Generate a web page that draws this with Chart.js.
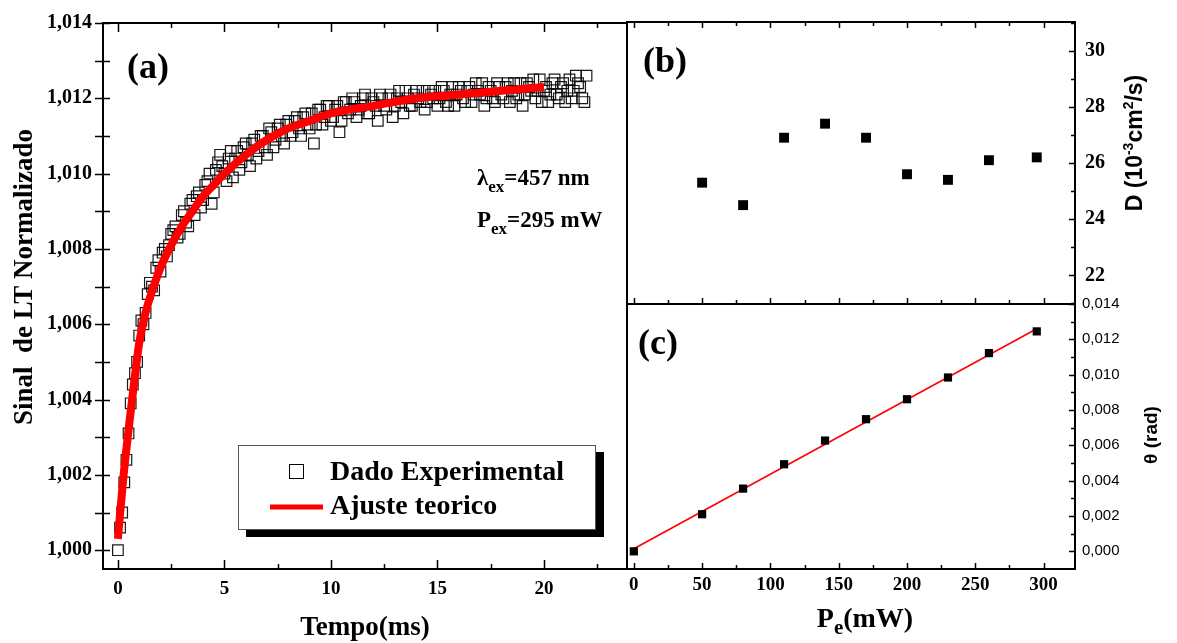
<!DOCTYPE html>
<html>
<head>
<meta charset="utf-8">
<script src="https://cdn.jsdelivr.net/npm/chart.js@4.4.1/dist/chart.umd.min.js"></script>
<style>
  body { margin: 0; background: #fff; }
  #painel { position: relative; width: 1177px; height: 643px; }
  #painel canvas { position: absolute; left: 0; top: 0; }
</style>
</head>
<body>
<div id="painel">
  <canvas id="grafico-a" width="1177" height="643"></canvas>
  <canvas id="grafico-b" width="1177" height="643"></canvas>
  <canvas id="grafico-c" width="1177" height="643"></canvas>
</div>
<script>
const SERIF = '"Liberation Serif", "Times New Roman", serif';
const SANS = '"Liberation Sans", Arial, sans-serif';

// (a) sinal de LT normalizado x tempo (pontos pares e intermediarios)
const tempoMs = [
  0, 0.2, 0.4, 0.6, 0.8, 1,
  1.2, 1.4, 1.6, 1.8, 2,
  2.2, 2.4, 2.6, 2.8, 3,
  3.2, 3.4, 3.6, 3.8, 4,
  4.2, 4.4, 4.6, 4.8, 5,
  5.2, 5.4, 5.6, 5.8, 6,
  6.2, 6.4, 6.6, 6.8, 7,
  7.2, 7.4, 7.6, 7.8, 8,
  8.2, 8.4, 8.6, 8.8, 9,
  9.2, 9.4, 9.6, 9.8, 10,
  10.2, 10.4, 10.6, 10.8, 11,
  11.2, 11.4, 11.6, 11.8, 12,
  12.2, 12.4, 12.6, 12.8, 13,
  13.2, 13.4, 13.6, 13.8, 14,
  14.2, 14.4, 14.6, 14.8, 15,
  15.2, 15.4, 15.6, 15.8, 16,
  16.2, 16.4, 16.6, 16.8, 17,
  17.2, 17.4, 17.6, 17.8, 18,
  18.2, 18.4, 18.6, 18.8, 19,
  19.2, 19.4, 19.6, 19.8, 20,
  20.2, 20.4, 20.6, 20.8, 21,
  21.2, 21.4, 21.6, 21.8, 22,
];
const sinalLT = [
  1.0000, 1.0010, 1.0024, 1.0039, 1.0047, 1.0057,
  1.0060, 1.0068, 1.0070, 1.0075, 1.0074,
  1.0080, 1.0081, 1.0085, 1.0083, 1.0089,
  1.0087, 1.0092, 1.0089, 1.0095, 1.0093,
  1.0098, 1.0092, 1.0101, 1.0105, 1.0100,
  1.0104, 1.0099, 1.0106, 1.0103, 1.0108,
  1.0102, 1.0109, 1.0106, 1.0110, 1.0105,
  1.0111, 1.0109, 1.0113, 1.0108, 1.0114,
  1.0111, 1.0115, 1.0110, 1.0116, 1.0112,
  1.0108, 1.0117, 1.0113, 1.0118, 1.0114,
  1.0117, 1.0111, 1.0119, 1.0116, 1.0120,
  1.0115, 1.0118, 1.0121, 1.0116, 1.0119,
  1.0114, 1.0120, 1.0117, 1.0121, 1.0118,
  1.0122, 1.0116, 1.0120, 1.0118, 1.0122,
  1.0119, 1.0117, 1.0122, 1.0120, 1.0118,
  1.0123, 1.0119, 1.0121, 1.0118, 1.0123,
  1.0120, 1.0122, 1.0119, 1.0124, 1.0121,
  1.0118, 1.0123, 1.0120, 1.0124, 1.0121,
  1.0123, 1.0119, 1.0124, 1.0121, 1.0118,
  1.0124, 1.0122, 1.0120, 1.0125, 1.0122,
  1.0119, 1.0124, 1.0121, 1.0123, 1.0119,
  1.0125, 1.0122, 1.0124, 1.0120, 1.0126,
];
const tempoMsMeio = [
  0.1, 0.3, 0.5, 0.7, 0.9,
  1.1, 1.3, 1.5, 1.7, 1.9,
  2.1, 2.3, 2.5, 2.7, 2.9,
  3.1, 3.3, 3.5, 3.7, 3.9,
  4.1, 4.3, 4.5, 4.7, 4.9,
  5.1, 5.3, 5.5, 5.7, 5.9,
  6.1, 6.3, 6.5, 6.7, 6.9,
  7.1, 7.3, 7.5, 7.7, 7.9,
  8.1, 8.3, 8.5, 8.7, 8.9,
  9.1, 9.3, 9.5, 9.7, 9.9,
  10.1, 10.3, 10.5, 10.7, 10.9,
  11.1, 11.3, 11.5, 11.7, 11.9,
  12.1, 12.3, 12.5, 12.7, 12.9,
  13.1, 13.3, 13.5, 13.7, 13.9,
  14.1, 14.3, 14.5, 14.7, 14.9,
  15.1, 15.3, 15.5, 15.7, 15.9,
  16.1, 16.3, 16.5, 16.7, 16.9,
  17.1, 17.3, 17.5, 17.7, 17.9,
  18.1, 18.3, 18.5, 18.7, 18.9,
  19.1, 19.3, 19.5, 19.7, 19.9,
  20.1, 20.3, 20.5, 20.7, 20.9,
  21.1, 21.3, 21.5, 21.7, 21.9,
];
const sinalLTMeio = [
  1.0006, 1.0018, 1.0031, 1.0044, 1.0050,
  1.0061, 1.0063, 1.0071, 1.0069, 1.0077,
  1.0079, 1.0078, 1.0084, 1.0086, 1.0084,
  1.0090, 1.0086, 1.0093, 1.0094, 1.0091,
  1.0097, 1.0100, 1.0095, 1.0103, 1.0102,
  1.0098, 1.0106, 1.0104, 1.0101, 1.0107,
  1.0105, 1.0108, 1.0104, 1.0110, 1.0107,
  1.0112, 1.0107, 1.0112, 1.0110, 1.0113,
  1.0110, 1.0114, 1.0112, 1.0115, 1.0113,
  1.0116, 1.0113, 1.0117, 1.0115, 1.0118,
  1.0115, 1.0118, 1.0114, 1.0119, 1.0117,
  1.0119, 1.0117, 1.0120, 1.0116, 1.0120,
  1.0118, 1.0121, 1.0118, 1.0120, 1.0115,
  1.0120, 1.0119, 1.0122, 1.0118, 1.0121,
  1.0120, 1.0122, 1.0119, 1.0121, 1.0122,
  1.0120, 1.0122, 1.0118, 1.0123, 1.0121,
  1.0122, 1.0119, 1.0123, 1.0121, 1.0122,
  1.0124, 1.0120, 1.0122, 1.0119, 1.0123,
  1.0120, 1.0124, 1.0122, 1.0120, 1.0124,
  1.0121, 1.0123, 1.0125, 1.0122, 1.0119,
  1.0123, 1.0121, 1.0125, 1.0120, 1.0124,
  1.0122, 1.0120, 1.0126, 1.0123, 1.0119,
];
const tempoAjuste = [0, 0.25, 0.5, 0.75, 1, 1.25, 1.5, 2, 2.5, 3, 3.5, 4, 4.5, 5, 6, 7, 8, 9, 10, 12, 14, 16, 18, 20];
const sinalAjuste = [
  1.0003, 1.0019, 1.0032, 1.0044, 1.0055, 1.0062, 1.0067, 1.0075, 1.0081, 1.0086, 1.0090, 1.0094,
  1.0097, 1.0100, 1.0105, 1.0109, 1.0112, 1.0114, 1.0116, 1.0118, 1.0120, 1.0121, 1.0122, 1.0123,
];
const ticksTempo = [0, 5, 10, 15, 20];
const ticksSinal = [1.000, 1.002, 1.004, 1.006, 1.008, 1.010, 1.012, 1.014];

// (b) difusividade e (c) theta x potencia
const potenciaD = [50, 80, 110, 140, 170, 200, 230, 260, 295];
const difusividade = [25.3, 24.5, 26.9, 27.4, 26.9, 25.6, 25.4, 26.1, 26.2];
const potenciaTheta = [0, 50, 80, 110, 140, 170, 200, 230, 260, 295];
const theta = [0.0000, 0.0021, 0.00355, 0.00493, 0.00627, 0.00748, 0.00861, 0.00984, 0.01122, 0.01245];
const potenciaReta = [0, 295];
const thetaReta = [0.00015, 0.0126];
const ticksPotencia = [0, 50, 100, 150, 200, 250, 300];
const ticksD = [22, 24, 26, 28, 30];
const ticksTheta = [0, 0.002, 0.004, 0.006, 0.008, 0.010, 0.012, 0.014];

const pontos = (xs, ys) => xs.map((x, i) => ({ x, y: ys[i] }));
const virgula = (casas) => (v) => v.toFixed(casas).replace(".", ",");

// texto com partes (subscrito / sobrescrito)
function textoRico(ctx, partes, x, y, align, rot) {
  ctx.save();
  ctx.translate(x, y);
  if (rot) ctx.rotate(rot);
  ctx.textAlign = "left";
  ctx.textBaseline = "alphabetic";
  ctx.fillStyle = "#000";
  let w = 0;
  partes.forEach((p) => {
    ctx.font = p.f;
    w += ctx.measureText(p.t).width;
  });
  let cx = align === "center" ? -w / 2 : 0;
  partes.forEach((p) => {
    ctx.font = p.f;
    ctx.fillText(p.t, cx, p.dy || 0);
    cx += ctx.measureText(p.t).width;
  });
  ctx.restore();
}

const textos = {
  id: "textos",
  afterDraw(chart, args, opts) {
    (opts.itens || []).forEach((it) =>
      textoRico(chart.ctx, it.partes, it.x, it.y, it.align, it.rot)
    );
  },
};

// moldura e marcas para dentro
const moldura = {
  id: "moldura",
  afterDraw(chart, args, opts) {
    const { ctx, chartArea: a, scales } = chart;
    ctx.save();
    ctx.strokeStyle = "#000";
    ctx.lineWidth = 1.5;
    ctx.beginPath();
    (opts.marcas || []).forEach((m) => {
      const s = scales[m.eixo];
      const n = Math.round((m.ate - m.de) / m.passo);
      for (let i = 0; i <= n; i++) {
        const v = m.de + i * m.passo;
        const r = v / m.cada;
        const maior = Math.abs(r - Math.round(r)) < 1e-6;
        const len = maior ? m.tam[0] : m.tam[1];
        const fora = m.fora || 0;
        const p = Math.round(s.getPixelForValue(v)) + 0.5;
        m.lados.forEach((lado) => {
          if (lado === "bottom") { ctx.moveTo(p, a.bottom + fora); ctx.lineTo(p, a.bottom - len); }
          if (lado === "top") { ctx.moveTo(p, a.top - fora); ctx.lineTo(p, a.top + len); }
          if (lado === "left") { ctx.moveTo(a.left - fora, p); ctx.lineTo(a.left + len, p); }
          if (lado === "right") { ctx.moveTo(a.right + fora, p); ctx.lineTo(a.right - len, p); }
        });
      }
    });
    ctx.stroke();
    ctx.lineWidth = 2;
    ctx.strokeRect(a.left, a.top, a.right - a.left, a.bottom - a.top);
    ctx.restore();
  },
};

// legenda do painel (a), com sombra
const legendaA = {
  id: "legendaA",
  afterDraw(chart) {
    const ctx = chart.ctx;
    const ajuste = chart.data.datasets[0];
    const dados = chart.data.datasets[1];
    ctx.save();
    ctx.fillStyle = "#000";
    ctx.fillRect(246, 452, 358, 85);
    ctx.fillStyle = "#fff";
    ctx.fillRect(238, 445, 358, 85);
    ctx.strokeStyle = "#555";
    ctx.lineWidth = 1;
    ctx.strokeRect(238.5, 445.5, 357, 84);
    ctx.strokeStyle = "#000";
    ctx.strokeRect(289.5, 464.5, 14, 14);
    ctx.strokeStyle = ajuste.borderColor;
    ctx.lineWidth = 5;
    ctx.beginPath();
    ctx.moveTo(270, 507);
    ctx.lineTo(323, 507);
    ctx.stroke();
    ctx.restore();
    const f = `bold 28px ${SERIF}`;
    textoRico(ctx, [{ t: dados.label, f }], 330, 480);
    textoRico(ctx, [{ t: ajuste.label, f }], 330, 514);
  },
};

const base = {
  responsive: false,
  animation: false,
  devicePixelRatio: 1,
  events: [],
};

const eixoLinear = (min, max, ticks, fmt, font, padding, tamanho, lado) => ({
  type: "linear",
  position: lado,
  min,
  max,
  grid: { display: false, drawTicks: false },
  border: { display: false },
  afterBuildTicks: (s) => { s.ticks = ticks.map((v) => ({ value: v })); },
  afterFit: (s) => {
    if (s.isHorizontal()) s.height = tamanho;
    else s.width = tamanho;
  },
  ticks: { callback: fmt, font, color: "#000", padding, autoSkip: false, maxRotation: 0 },
});

// painel (a)
new Chart(document.getElementById("grafico-a"), {
  type: "scatter",
  data: {
    datasets: [
      {
        label: "Ajuste teorico",
        data: pontos(tempoAjuste, sinalAjuste),
        showLine: true,
        borderColor: "#ff0000",
        borderWidth: 8,
        pointRadius: 0,
        cubicInterpolationMode: "monotone",
        order: 0,
      },
      {
        label: "Dado Experimental",
        data: pontos(tempoMs, sinalLT).concat(pontos(tempoMsMeio, sinalLTMeio)),
        pointStyle: "rect",
        pointRadius: 7.5,
        borderWidth: 1.2,
        borderColor: "rgba(0,0,0,0.9)",
        backgroundColor: "rgba(255,255,255,0)",
        order: 1,
      },
    ],
  },
  options: {
    ...base,
    layout: { padding: { left: 0, top: 18, right: 550, bottom: 0 } },
    scales: {
      x: eixoLinear(-0.7, 23.9, ticksTempo, (v) => String(v),
        { family: SERIF, size: 19, weight: "bold" }, 9, 74, "bottom"),
      y: eixoLinear(0.9995, 1.014, ticksSinal, virgula(3),
        { family: SERIF, size: 20, weight: "bold" }, 11, 103, "left"),
    },
    plugins: {
      legend: { display: false },
      tooltip: { enabled: false },
      moldura: {
        marcas: [
          { eixo: "x", de: 0, ate: 22.5, passo: 2.5, cada: 5, tam: [9, 5], lados: ["bottom", "top"] },
          { eixo: "y", de: 1.0, ate: 1.014, passo: 0.001, cada: 0.002, tam: [7, 7], fora: 8, lados: ["left"] },
        ],
      },
      textos: {
        itens: [
          { partes: [{ t: "(a)", f: `bold 36px ${SERIF}` }], x: 127, y: 78 },
          {
            partes: [
              { t: "λ", f: `bold 23px ${SERIF}` },
              { t: "ex", f: `bold 17px ${SERIF}`, dy: 7 },
              { t: "=457 nm", f: `bold 23px ${SERIF}` },
            ],
            x: 477, y: 185,
          },
          {
            partes: [
              { t: "P", f: `bold 23px ${SERIF}` },
              { t: "ex", f: `bold 17px ${SERIF}`, dy: 7 },
              { t: "=295 mW", f: `bold 23px ${SERIF}` },
            ],
            x: 477, y: 227,
          },
          { partes: [{ t: "Tempo(ms)", f: `bold 27px ${SERIF}` }], x: 365, y: 635, align: "center" },
          {
            partes: [{ t: "Sinal  de LT Normalizado", f: `bold 27px ${SERIF}` }],
            x: 32, y: 277, align: "center", rot: -Math.PI / 2,
          },
        ],
      },
    },
  },
  plugins: [moldura, legendaA, textos],
});

// painel (b)
new Chart(document.getElementById("grafico-b"), {
  type: "scatter",
  data: {
    datasets: [
      {
        label: "D",
        data: pontos(potenciaD, difusividade),
        pointStyle: "rect",
        pointRadius: 7,
        borderWidth: 0,
        backgroundColor: "#000",
        borderColor: "#000",
      },
    ],
  },
  options: {
    ...base,
    layout: { padding: { left: 627, top: 18, right: 0, bottom: 339 } },
    scales: {
      x: { type: "linear", min: -5, max: 323, display: false },
      y: eixoLinear(20.98, 31.02, ticksD, (v) => String(v),
        { family: SERIF, size: 20, weight: "bold" }, 10, 102, "right"),
    },
    plugins: {
      legend: { display: false },
      tooltip: { enabled: false },
      moldura: {
        marcas: [
          { eixo: "x", de: 0, ate: 300, passo: 25, cada: 50, tam: [6, 4], lados: ["bottom", "top"] },
          { eixo: "y", de: 21, ate: 31, passo: 1, cada: 2, tam: [6, 4], lados: ["right"] },
        ],
      },
      textos: {
        itens: [
          { partes: [{ t: "(b)", f: `bold 36px ${SERIF}` }], x: 643, y: 72 },
          {
            partes: [
              { t: "D (10", f: `bold 23px ${SANS}` },
              { t: "-3", f: `bold 14px ${SANS}`, dy: -9 },
              { t: "cm", f: `bold 23px ${SANS}` },
              { t: "2", f: `bold 14px ${SANS}`, dy: -9 },
              { t: "/s)", f: `bold 23px ${SANS}` },
            ],
            x: 1142, y: 143, align: "center", rot: -Math.PI / 2,
          },
        ],
      },
    },
  },
  plugins: [moldura, textos],
});

// painel (c)
new Chart(document.getElementById("grafico-c"), {
  type: "scatter",
  data: {
    datasets: [
      {
        label: "theta",
        data: pontos(potenciaTheta, theta),
        pointStyle: "rect",
        pointRadius: 5.8,
        borderWidth: 0,
        backgroundColor: "#000",
        borderColor: "#000",
        order: 0,
      },
      {
        label: "ajuste linear",
        data: pontos(potenciaReta, thetaReta),
        showLine: true,
        borderColor: "#ff0000",
        borderWidth: 1.6,
        pointRadius: 0,
        order: 1,
      },
    ],
  },
  options: {
    ...base,
    layout: { padding: { left: 627, top: 304, right: 0, bottom: 0 } },
    scales: {
      x: eixoLinear(-5, 323, ticksPotencia, (v) => String(v),
        { family: SERIF, size: 19, weight: "bold" }, 5, 74, "bottom"),
      y: eixoLinear(-0.001, 0.014, ticksTheta, virgula(3),
        { family: SANS, size: 15 }, 7, 102, "right"),
    },
    plugins: {
      legend: { display: false },
      tooltip: { enabled: false },
      moldura: {
        marcas: [
          { eixo: "x", de: 0, ate: 300, passo: 25, cada: 50, tam: [6, 4], lados: ["bottom"] },
          { eixo: "y", de: 0, ate: 0.014, passo: 0.001, cada: 0.002, tam: [6, 4], lados: ["right"] },
        ],
      },
      textos: {
        itens: [
          { partes: [{ t: "(c)", f: `bold 36px ${SERIF}` }], x: 638, y: 354 },
          {
            partes: [
              { t: "P", f: `bold 28px ${SERIF}` },
              { t: "e", f: `bold 21px ${SERIF}`, dy: 7 },
              { t: "(mW)", f: `bold 28px ${SERIF}` },
            ],
            x: 865, y: 627, align: "center",
          },
          {
            partes: [{ t: "θ (rad)", f: `bold 19px ${SANS}` }],
            x: 1157, y: 435, align: "center", rot: -Math.PI / 2,
          },
        ],
      },
    },
  },
  plugins: [moldura, textos],
});
</script>
</body>
</html>
